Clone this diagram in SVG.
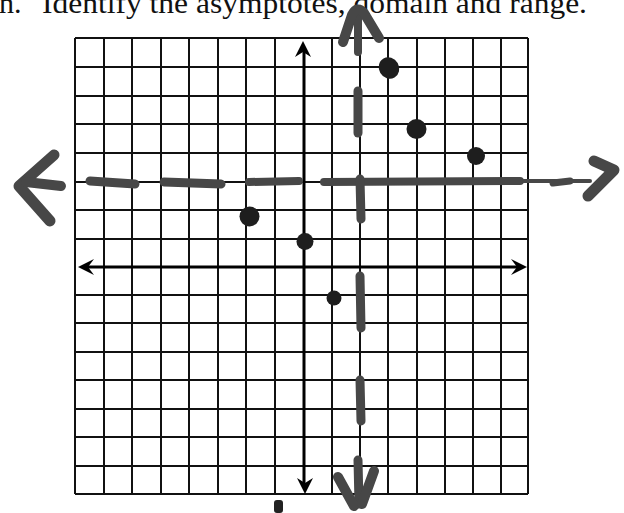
<svg xmlns="http://www.w3.org/2000/svg" width="624" height="513" viewBox="0 0 624 513">
<style>
.title{font-family:"Liberation Serif","Times New Roman",serif;font-size:30px;fill:#111}
.grid line{stroke:#111;stroke-width:2}
.axis{stroke:#000;stroke-width:3;fill:none}
.ah{fill:#000}
.mk{stroke:#474747;fill:none;stroke-linecap:round;stroke-linejoin:round}
.dot{fill:#1e1e1e}
</style>
<rect width="624" height="513" fill="#fff"/>
<g id="title">
<text class="title" x="-1" y="13">n.</text>
<text class="title" x="42" y="13" textLength="545" lengthAdjust="spacingAndGlyphs">Identify the asymptotes, domain and range.</text>
</g>
<g id="grid" class="grid">
<line x1="75" y1="38" x2="75" y2="494"/><line x1="104" y1="38" x2="104" y2="494"/><line x1="132" y1="38" x2="132" y2="494"/><line x1="161" y1="38" x2="161" y2="494"/><line x1="189" y1="38" x2="189" y2="494"/><line x1="218" y1="38" x2="218" y2="494"/><line x1="246" y1="38" x2="246" y2="494"/><line x1="275" y1="38" x2="275" y2="494"/><line x1="332" y1="38" x2="332" y2="494"/><line x1="360" y1="38" x2="360" y2="494"/><line x1="388" y1="38" x2="388" y2="494"/><line x1="417" y1="38" x2="417" y2="494"/><line x1="445" y1="38" x2="445" y2="494"/><line x1="473" y1="38" x2="473" y2="494"/><line x1="501" y1="38" x2="501" y2="494"/><line x1="528" y1="38" x2="528" y2="494"/>
<line x1="75" y1="38" x2="528" y2="38"/><line x1="75" y1="67" x2="528" y2="67"/><line x1="75" y1="96" x2="528" y2="96"/><line x1="75" y1="124" x2="528" y2="124"/><line x1="75" y1="153" x2="528" y2="153"/><line x1="75" y1="182" x2="528" y2="182"/><line x1="75" y1="210" x2="528" y2="210"/><line x1="75" y1="239" x2="528" y2="239"/><line x1="75" y1="295" x2="528" y2="295"/><line x1="75" y1="323" x2="528" y2="323"/><line x1="75" y1="352" x2="528" y2="352"/><line x1="75" y1="380" x2="528" y2="380"/><line x1="75" y1="409" x2="528" y2="409"/><line x1="75" y1="437" x2="528" y2="437"/><line x1="75" y1="466" x2="528" y2="466"/><line x1="75" y1="494" x2="528" y2="494"/>
</g>
<g id="axes">
<line class="axis" x1="304" y1="50" x2="304" y2="486"/>
<line class="axis" x1="86" y1="267" x2="519" y2="267"/>
<polygon class="ah" points="303,41 295,57 303,52 311,57"/>
<polygon class="ah" points="305,494 297,478 305,483 313,478"/>
<polygon class="ah" points="78,267 94,259 88,267 94,275"/>
<polygon class="ah" points="527,267 511,259 517,267 511,275"/>
</g>
<g id="connectors">
<g id="horizontal-asymptote" class="mk">
<path d="M90,181 L135,184" stroke-width="9"/>
<path d="M164,182 L221,184" stroke-width="9"/>
<path d="M249,182 L299,181" stroke-width="8"/>
<path d="M324,182 L520,181" stroke-width="8"/>
<path d="M520,181 L590,181" stroke-width="4"/>
<path d="M553,183 L570,181" stroke-width="7"/>
<path d="M594,161 L614,170 L588,196" stroke-width="11"/>
<path d="M54,155 L19,186 L50,221" stroke-width="11"/>
<path d="M26,182 L61,186" stroke-width="10"/>
</g>
<g id="vertical-asymptote" class="mk">
<path d="M358,16 L358,52" stroke-width="8"/>
<path d="M343,42 L352,15 Q357,5 364,13 L379,38" stroke-width="10"/>
<path d="M358,91 L358,133" stroke-width="9"/>
<path d="M360,179 L361,219" stroke-width="9"/>
<path d="M360,276 L361,328" stroke-width="9"/>
<path d="M360,380 L361,421" stroke-width="9"/>
<path d="M358,460 L359,504" stroke-width="9"/>
<path d="M338,477 L354,506" stroke-width="10"/>
<path d="M374,471 L362,504" stroke-width="10"/>
</g>
</g>
<g id="point-1"><ellipse class="dot" cx="389" cy="68" rx="10" ry="11" transform="rotate(-30 389 68)"/></g>
<g id="point-2"><circle class="dot" cx="416.5" cy="129" r="10"/></g>
<g id="point-3"><circle class="dot" cx="476" cy="156" r="9"/></g>
<g id="point-4"><circle class="dot" cx="249.5" cy="216.5" r="10"/></g>
<g id="point-5"><circle class="dot" cx="305" cy="241.5" r="8.5"/></g>
<g id="point-6"><circle class="dot" cx="334" cy="298" r="7.5"/></g>
<g id="mark"><rect x="274" y="500" width="9" height="13" rx="3" fill="#222"/></g>
</svg>
